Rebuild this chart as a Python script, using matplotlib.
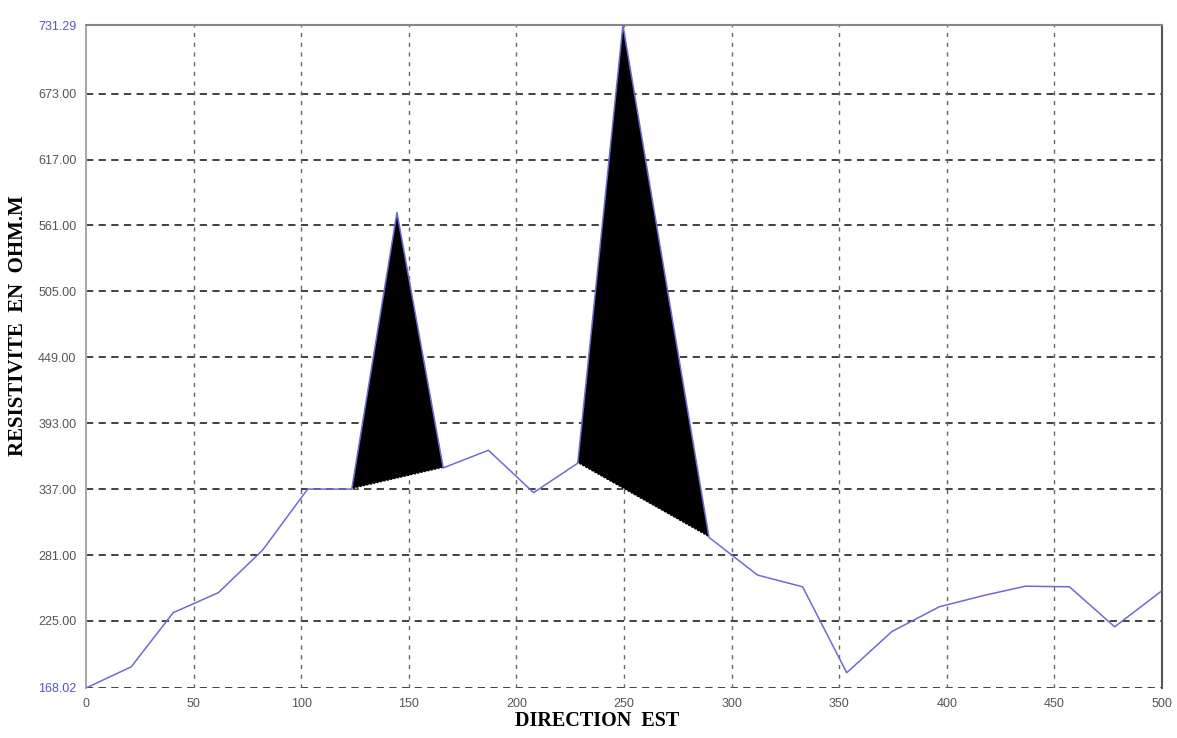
import matplotlib
matplotlib.use("Agg")
import matplotlib.pyplot as plt

# Data
distance = [0, 21, 40.5, 61.5, 82, 103, 123.5, 144.5, 166, 187, 208, 228.5,
            249.5, 289.5, 312, 333, 353.5, 374.5, 396.5, 418, 436.5, 457, 478, 499.5]
resistivity = [168.02, 186, 232, 249, 285, 337, 337, 572, 355, 370, 334, 359,
               731.29, 296, 264, 254, 181, 216, 237, 247, 254.5, 254, 220, 250]

# Indices of the blackened anomalies (start, end inclusive)
anomalies = [(6, 8), (11, 13)]

y_ticks = [168.02, 225.00, 281.00, 337.00, 393.00, 449.00, 505.00, 561.00, 617.00, 673.00, 731.29]
x_ticks = [0, 50, 100, 150, 200, 250, 300, 350, 400, 450, 500]

fig = plt.figure(figsize=(11.77, 7.38), dpi=100)
ax = fig.add_axes([86 / 1177, 1 - 688 / 738, 1076 / 1177, 663 / 738])

# Grid
for yv in y_ticks:
    ax.axhline(yv, color="#333333", lw=1.3, ls=(0, (4, 3)), zorder=1)
for xv in x_ticks[1:-1]:
    ax.axvline(xv, color="#666666", lw=1.0, ls=(0, (3, 4)), zorder=1)

# Black anomaly fills
for i0, i1 in anomalies:
    xs = distance[i0:i1 + 1]
    ys = resistivity[i0:i1 + 1]
    ax.fill(xs, ys, color="black", lw=0, zorder=2)
    ax.plot([xs[0], xs[-1]], [ys[0], ys[-1]], color="white", lw=1, ls=(0, (1, 1.5)), zorder=3)

ax.plot(distance, resistivity, color="#6b6bd6", lw=1.1, zorder=4)

ax.set_xlim(0, 500)
ax.set_ylim(168.02, 731.29)
ax.set_xticks(x_ticks)
ax.set_yticks(y_ticks)
ax.set_yticklabels(["%.2f" % v for v in y_ticks])
ax.tick_params(axis="both", length=0, which="both", labelsize=9, labelcolor="#555555",
               labelfontfamily="Liberation Sans")
ax.tick_params(axis="x", pad=7)
ax.tick_params(axis="y", pad=7)
for lbl in ax.get_yticklabels():
    if lbl.get_text() in ("168.02", "731.29"):
        lbl.set_color("#5555cc")

ax.spines["bottom"].set_visible(False)
ax.spines["left"].set_color("#aaaaaa")
ax.spines["left"].set_linewidth(1.5)
ax.spines["top"].set_color("#888888")
ax.spines["top"].set_linewidth(1.5)
ax.spines["right"].set_color("#555555")
ax.spines["right"].set_linewidth(1.5)

fig.text(597 / 1177, 1 - 721 / 738, "DIRECTION  EST", ha="center", va="center",
         family="Liberation Serif", weight="bold", fontsize=14.5)
fig.text(18 / 1177, 1 - 326 / 738, "RESISTIVITE  EN  OHM.M", ha="center", va="center",
         rotation=90, family="Liberation Serif", weight="bold", fontsize=15)

fig.savefig("out.png", dpi=100, facecolor="white")
